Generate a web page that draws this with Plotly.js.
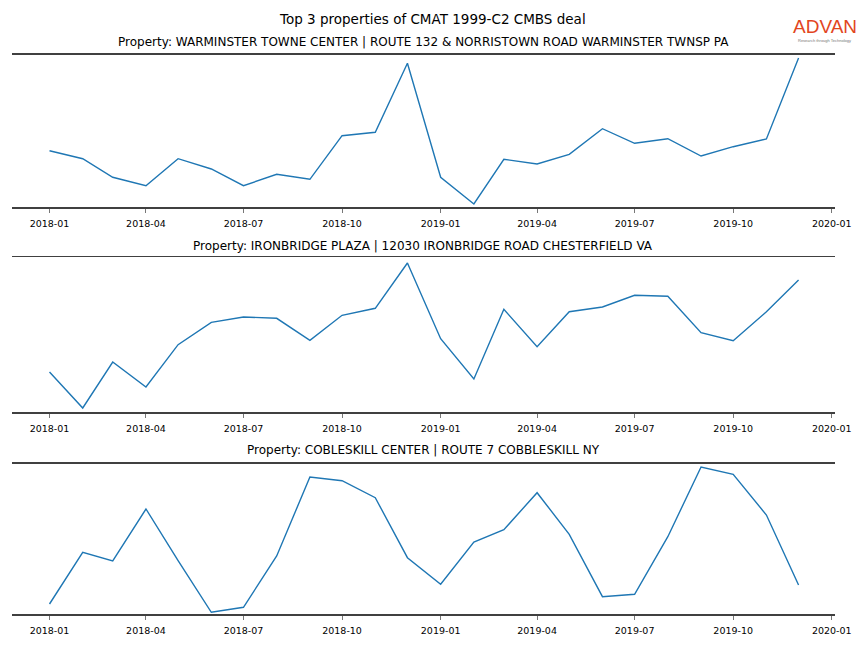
<!DOCTYPE html>
<html>
<head>
<meta charset="utf-8">
<script src="https://cdn.plot.ly/plotly-3.0.1.min.js"></script>
<style>
  html, body { margin: 0; padding: 0; background: #fff; }
  #chart { width: 864px; height: 648px; }
</style>
</head>
<body>
<div id="chart"></div>
<script>
// Monthly dates (2018-01 .. 2019-12)
const months = [
  '2018-01-01','2018-02-01','2018-03-01','2018-04-01','2018-05-01','2018-06-01',
  '2018-07-01','2018-08-01','2018-09-01','2018-10-01','2018-11-01','2018-12-01',
  '2019-01-01','2019-02-01','2019-03-01','2019-04-01','2019-05-01','2019-06-01',
  '2019-07-01','2019-08-01','2019-09-01','2019-10-01','2019-11-01','2019-12-01'
];

// Relative values (no y scale shown in the reference)
const warminster = [56, 48, 29.4, 21, 48, 37.7, 21, 32.4, 27.4, 71, 74.4, 143.4,
                    29.4, 2.7, 47.4, 42.7, 52.4, 78, 63.4, 68, 50.7, 60, 67.7, 148.7];
const ironbridge = [40, 4, 50, 25, 67.3, 89.7, 95, 93.7, 71.7, 96.7, 103.7, 149,
                    73.3, 33, 102.7, 65.3, 100.3, 105, 116.7, 115.7, 79.3, 71.3, 100.3, 132];
const cobleskill = [9.7, 61.4, 52.7, 104.7, 53, 1.4, 6.4, 57.7, 136.7, 133, 116, 56,
                    29.4, 71.7, 84, 121, 79.4, 17, 19.4, 77, 146.7, 139.4, 98.7, 28.7];

const tickVals = ['2018-01-01','2018-04-01','2018-07-01','2018-10-01','2019-01-01',
                  '2019-04-01','2019-07-01','2019-10-01','2020-01-01'];
const tickText = ['2018-01','2018-04','2018-07','2018-10','2019-01',
                  '2019-04','2019-07','2019-10','2020-01'];

const mainTitle = 'Top 3 properties of CMAT 1999-C2 CMBS deal';
const panelTitles = [
  'Property: WARMINSTER TOWNE CENTER | ROUTE 132 & NORRISTOWN ROAD WARMINSTER TWNSP PA',
  'Property: IRONBRIDGE PLAZA | 12030 IRONBRIDGE ROAD CHESTERFIELD VA',
  'Property: COBLESKILL CENTER | ROUTE 7 COBBLESKILL NY'
];
const series = [warminster, ironbridge, cobleskill];
const yRanges = [[0, 152], [0, 154.7], [0, 150]];

const W = 864, H = 648;
const xDom = [12 / W, 835 / W];
const yDoms = [
  [1 - 206.7 / H, 1 - 54.7 / H],
  [1 - 412 / H, 1 - 257.3 / H],
  [1 - 613.7 / H, 1 - 463.7 / H]
];
const titleY = [42, 246, 450];

const font = 'DejaVu Sans, Arial, sans-serif';
const traces = [];
const layout = {
  width: W, height: H,
  margin: {l: 0, r: 0, t: 0, b: 0},
  paper_bgcolor: '#fff', plot_bgcolor: '#fff',
  showlegend: false,
  font: {family: font, color: '#000'},
  annotations: [
    {text: mainTitle, x: 0.5, y: 1 - 19 / H, xref: 'paper', yref: 'paper',
     showarrow: false, font: {size: 13.5, family: font, color: '#000'},
     xanchor: 'center', yanchor: 'middle'},
    {text: 'ADVAN', x: 824.5 / W, y: 1 - 27 / H, xref: 'paper', yref: 'paper',
     showarrow: false, font: {size: 19, family: 'Liberation Sans, Arial, sans-serif', color: '#e2461e'},
     xanchor: 'center', yanchor: 'middle'},
    {text: 'Research through Technology', x: 824.5 / W, y: 1 - 40 / H, xref: 'paper', yref: 'paper',
     showarrow: false, font: {size: 4, family: 'Liberation Sans, Arial, sans-serif', color: '#777'},
     xanchor: 'center', yanchor: 'middle'}
  ]
};

series.forEach((vals, i) => {
  const n = i === 0 ? '' : String(i + 1);
  traces.push({
    x: months, y: vals, type: 'scatter', mode: 'lines',
    xaxis: 'x' + n, yaxis: 'y' + n,
    line: {color: '#1f77b4', width: 1.4},
    hoverinfo: 'skip'
  });
  layout['xaxis' + n] = {
    domain: xDom, anchor: 'y' + n, type: 'date',
    range: ['2017-11-27', '2020-01-04'],
    tickmode: 'array', tickvals: tickVals, ticktext: tickText,
    ticks: 'outside', ticklen: 4, tickwidth: 0.8, tickcolor: '#555',
    ticklabelstandoff: 3,
    tickfont: {size: 9.5, family: font, color: '#000'},
    showline: true, mirror: true, linecolor: '#404040', linewidth: 1.8,
    showgrid: false, zeroline: false, fixedrange: true
  };
  layout['yaxis' + n] = {
    domain: yDoms[i], anchor: 'x' + n, range: yRanges[i],
    showticklabels: false, ticks: '', showgrid: false, zeroline: false,
    showline: false, fixedrange: true
  };
  layout.annotations.push({
    text: panelTitles[i], x: 0.5 * (xDom[0] + xDom[1]) - 0.5 / W, y: 1 - titleY[i] / H,
    xref: 'paper', yref: 'paper', showarrow: false,
    font: {size: 12, family: font, color: '#000'},
    xanchor: 'center', yanchor: 'middle'
  });
});

Plotly.newPlot('chart', traces, layout, {displayModeBar: false, staticPlot: true});
</script>
</body>
</html>
